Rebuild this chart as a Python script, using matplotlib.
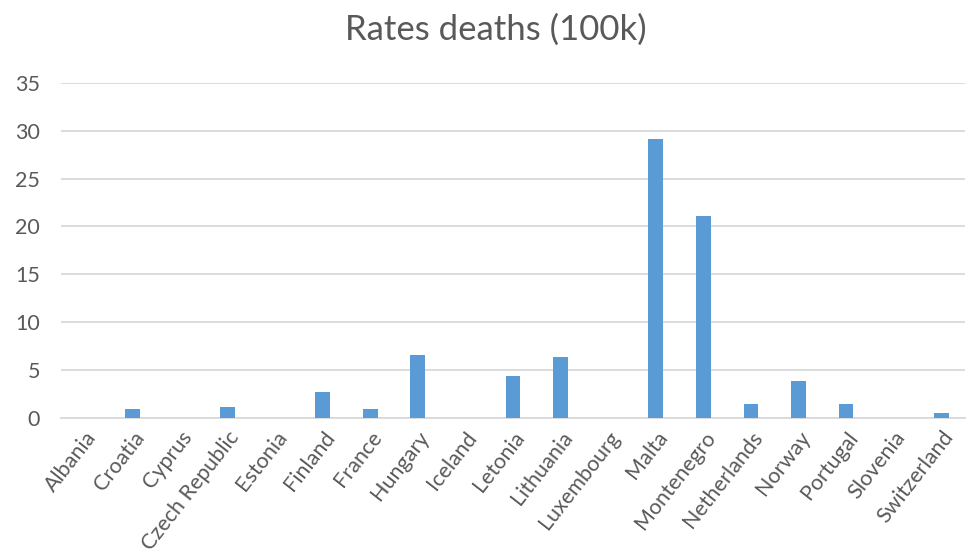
import matplotlib.pyplot as plt
import numpy as np

countries = ["Albania", "Croatia", "Cyprus", "Czech Republic", "Estonia", "Finland",
             "France", "Hungary", "Iceland", "Letonia", "Lithuania", "Luxembourg",
             "Malta", "Montenegro", "Netherlands", "Norway", "Portugal", "Slovenia",
             "Switzerland"]
rates = [0, 0.9, 0, 1.1, 0, 2.7, 0.9, 6.6, 0, 4.4, 6.4, 0, 29.1, 21.1, 1.4, 3.8, 1.4, 0, 0.5]
yticks = [0, 5, 10, 15, 20, 25, 30, 35]

plt.rcParams['font.family'] = ['Lato', 'DejaVu Sans']
text_col = "#595959"

fig = plt.figure(figsize=(9.67, 5.6), dpi=100)
ax = fig.add_axes([0.063, 0.254, 0.935, 0.598])

x = np.arange(len(countries))
ax.bar(x, rates, width=0.31, color="#5B9BD5", zorder=3)

ax.set_xlim(-0.5, len(countries) - 0.5)
ax.set_ylim(0, 35)
ax.set_yticks(yticks)
ax.set_xticks(x)
ax.set_xticklabels(countries, rotation=52, ha="right", rotation_mode="anchor")
ax.tick_params(axis="both", length=0, labelsize=15.5, labelcolor=text_col)
ax.tick_params(axis="y", pad=15)
ax.tick_params(axis="x", pad=7)

ax.grid(axis="y", color="#D9D9D9", linewidth=1.3, zorder=0)
for side in ["top", "right", "left"]:
    ax.spines[side].set_visible(False)
ax.spines["bottom"].set_color("#D9D9D9")
ax.spines["bottom"].set_linewidth(1.3)

fig.text(0.513, 0.947, "Rates deaths (100k)", ha="center", va="center",
         fontsize=25, color=text_col)

fig.savefig("out.png", dpi=100)
